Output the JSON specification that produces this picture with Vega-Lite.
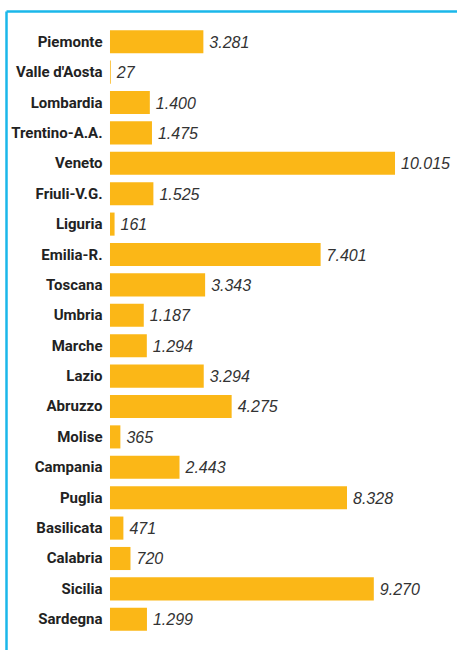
{
  "$schema": "https://vega.github.io/schema/vega-lite/v6.json",
  "width": 451,
  "height": 639,
  "autosize": {"type": "none"},
  "padding": {"left": 6, "top": 11, "right": 0, "bottom": 0},
  "background": "white",
  "config": {
    "view": {"stroke": null},
    "locale": {"number": {"decimal": ",", "thousands": ".", "grouping": [3], "currency": ["€", ""]}}
  },
  "data": {
    "values": [
      {"region": "Piemonte", "value": 3281},
      {"region": "Valle d'Aosta", "value": 27},
      {"region": "Lombardia", "value": 1400},
      {"region": "Trentino-A.A.", "value": 1475},
      {"region": "Veneto", "value": 10015},
      {"region": "Friuli-V.G.", "value": 1525},
      {"region": "Liguria", "value": 161},
      {"region": "Emilia-R.", "value": 7401},
      {"region": "Toscana", "value": 3343},
      {"region": "Umbria", "value": 1187},
      {"region": "Marche", "value": 1294},
      {"region": "Lazio", "value": 3294},
      {"region": "Abruzzo", "value": 4275},
      {"region": "Molise", "value": 365},
      {"region": "Campania", "value": 2443},
      {"region": "Puglia", "value": 8328},
      {"region": "Basilicata", "value": 471},
      {"region": "Calabria", "value": 720},
      {"region": "Sicilia", "value": 9270},
      {"region": "Sardegna", "value": 1299}
    ]
  },
  "encoding": {
    "y": {
      "field": "region",
      "type": "nominal",
      "sort": null,
      "scale": {"paddingInner": 0.24, "paddingOuter": 0.63},
      "axis": {
        "title": null,
        "ticks": false,
        "grid": false,
        "domainColor": "#1AB7EA",
        "domainWidth": 2.5,
        "labelPadding": -96,
        "labelAlign": "right",
        "labelBaseline": "middle",
        "labelFont": "Roboto, sans-serif",
        "labelFontWeight": "bold",
        "labelFontSize": 15,
        "labelColor": "#222222",
        "labelBound": false,
        "labelOverlap": false,
        "labelLimit": 0
      }
    },
    "x": {
      "field": "value",
      "type": "quantitative",
      "scale": {"domain": [-3654, 12193], "nice": false, "zero": false},
      "axis": {
        "orient": "top",
        "title": null,
        "labels": false,
        "ticks": false,
        "grid": false,
        "domainColor": "#1AB7EA",
        "domainWidth": 2.5
      }
    }
  },
  "layer": [
    {"mark": {"type": "bar", "color": "#FBB717"}},
    {
      "mark": {
        "type": "text",
        "align": "left",
        "baseline": "middle",
        "dx": 6,
        "dy": 1,
        "font": "Liberation Sans, sans-serif",
        "fontStyle": "italic",
        "fontSize": 16,
        "color": "#333333"
      },
      "encoding": {"text": {"field": "value", "type": "quantitative", "format": ",d"}}
    }
  ]
}
